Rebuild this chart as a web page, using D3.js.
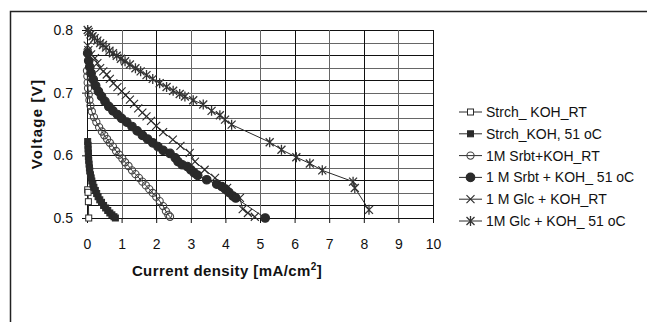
<!DOCTYPE html>
<html>
<head>
<meta charset="utf-8">
<script src="https://cdn.jsdelivr.net/npm/d3@7"></script>
<style>
  body { margin: 0; background: #fff; }
  svg { font-family: Arial, "Liberation Sans", sans-serif; }
</style>
</head>
<body>
<svg id="chart" width="647" height="322"></svg>
<script>
// values: [current density mA/cm2, voltage V]
const strchRT = [[0.02, 0.545], [0.03, 0.541], [0.04, 0.526], [0.05, 0.5]];
const strch51 = [[0.02, 0.622], [0.03, 0.616], [0.03, 0.61], [0.04, 0.604], [0.04, 0.598],
  [0.05, 0.592], [0.06, 0.586], [0.07, 0.58], [0.08, 0.575], [0.1, 0.569], [0.12, 0.564],
  [0.14, 0.559], [0.17, 0.554], [0.2, 0.549], [0.24, 0.544], [0.28, 0.539], [0.32, 0.534],
  [0.37, 0.529], [0.42, 0.525], [0.48, 0.52], [0.54, 0.516], [0.6, 0.512], [0.66, 0.508],
  [0.72, 0.505], [0.78, 0.502], [0.82, 0.5]];
const srbtRT = [[0.0, 0.735], [0.01, 0.726], [0.02, 0.716], [0.03, 0.707], [0.05, 0.697],
  [0.07, 0.688], [0.1, 0.679], [0.14, 0.67], [0.2, 0.661], [0.27, 0.653], [0.35, 0.645],
  [0.43, 0.638], [0.5, 0.632], [0.58, 0.626], [0.66, 0.62], [0.75, 0.614], [0.84, 0.607],
  [0.93, 0.601], [1.02, 0.595], [1.1, 0.589], [1.2, 0.583], [1.3, 0.576], [1.4, 0.57],
  [1.5, 0.564], [1.6, 0.558], [1.7, 0.552], [1.8, 0.546], [1.9, 0.54], [2.0, 0.534],
  [2.1, 0.527], [2.2, 0.519], [2.28, 0.511], [2.35, 0.505], [2.4, 0.502]];
const srbt51 = [[0.02, 0.763], [0.05, 0.751], [0.08, 0.741], [0.12, 0.731], [0.18, 0.721],
  [0.25, 0.711], [0.33, 0.702], [0.42, 0.694], [0.52, 0.686], [0.63, 0.678], [0.75, 0.671],
  [0.88, 0.665], [1.0, 0.659], [1.15, 0.653], [1.3, 0.646], [1.45, 0.639], [1.6, 0.632],
  [1.75, 0.626], [1.9, 0.62], [2.05, 0.614], [2.2, 0.608], [2.4, 0.603], [2.55, 0.596],
  [2.63, 0.59], [2.75, 0.585], [2.9, 0.582], [3.0, 0.577], [3.1, 0.572], [3.2, 0.568],
  [3.46, 0.561], [3.75, 0.554], [3.9, 0.55], [4.0, 0.546], [4.1, 0.541], [4.22, 0.535],
  [4.3, 0.532], [5.15, 0.5]];
const glcRT = [[0.02, 0.775], [0.04, 0.768], [0.12, 0.761], [0.23, 0.755], [0.3, 0.747],
  [0.38, 0.739], [0.47, 0.734], [0.57, 0.729], [0.66, 0.722], [0.76, 0.715], [0.88, 0.709],
  [1.0, 0.702], [1.12, 0.696], [1.24, 0.689], [1.36, 0.682], [1.48, 0.675], [1.6, 0.668],
  [1.72, 0.662], [1.85, 0.655], [2.0, 0.647], [2.2, 0.637], [2.48, 0.625], [2.7, 0.615],
  [2.97, 0.604], [3.12, 0.59], [3.4, 0.577], [3.7, 0.564], [4.05, 0.548], [4.42, 0.532],
  [4.5, 0.514], [4.65, 0.508], [4.85, 0.502]];
const glc51 = [[0.02, 0.8], [0.05, 0.797], [0.1, 0.793], [0.16, 0.79], [0.22, 0.787],
  [0.3, 0.783], [0.38, 0.779], [0.46, 0.776], [0.55, 0.772], [0.65, 0.767], [0.75, 0.763],
  [0.86, 0.759], [0.98, 0.754], [1.1, 0.75], [1.24, 0.745], [1.4, 0.739], [1.55, 0.734],
  [1.72, 0.728], [1.9, 0.722], [2.1, 0.715], [2.3, 0.709], [2.49, 0.703], [2.68, 0.698],
  [2.83, 0.694], [3.07, 0.688], [3.36, 0.681], [3.6, 0.671], [3.84, 0.664], [3.99, 0.657],
  [4.18, 0.649], [5.28, 0.621], [5.62, 0.609], [6.05, 0.597], [6.44, 0.587], [6.8, 0.576],
  [7.69, 0.558], [7.74, 0.548], [8.15, 0.513]];

const seriesNames = ['Strch_ KOH_RT', 'Strch_KOH, 51 oC', '1M Srbt+KOH_RT',
  '1 M Srbt + KOH_ 51 oC', '1 M Glc + KOH_RT', '1M Glc + KOH_ 51 oC'];
const seriesData = [strchRT, strch51, srbtRT, srbt51, glcRT, glc51];
const markerTypes = ['openSquare', 'square', 'openCircle', 'circle', 'cross', 'star'];

const xTicks = [0, 1, 2, 3, 4, 5, 6, 7, 8, 9, 10];
const yTicks = [0.5, 0.6, 0.7, 0.8];
const yGrid = d3.range(0.5, 0.8001, 0.02);

const svg = d3.select('#chart');
const marginLeft = 87, marginTop = 30, plotW = 346, plotH = 188;
const ink = '#2a2a2a';

// outer chart frame runs off the page on the right and bottom
svg.append('rect')
  .attr('x', 10.5).attr('y', 11.5).attr('width', 700).attr('height', 400)
  .attr('fill', 'none').attr('stroke', '#222').attr('stroke-width', 1.5);

const x = d3.scaleLinear().domain([0, 10]).range([0, plotW]);
const y = d3.scaleLinear().domain([0.5, 0.8]).range([plotH, 0]);

const g = svg.append('g').attr('transform', `translate(${marginLeft},${marginTop})`);

// grid
g.append('g').selectAll('line').data(yGrid).enter().append('line')
  .attr('x1', 0).attr('x2', plotW)
  .attr('y1', (d) => Math.round(y(d)) + 0.5).attr('y2', (d) => Math.round(y(d)) + 0.5)
  .attr('stroke', (d, i) => (i % 2 ? '#111' : '#666')).attr('stroke-width', 1);
g.append('g').selectAll('line').data(xTicks.slice(1)).enter().append('line')
  .attr('y1', 0).attr('y2', plotH)
  .attr('x1', (d) => Math.round(x(d)) + 0.5).attr('x2', (d) => Math.round(x(d)) + 0.5)
  .attr('stroke', (d, i) => (i % 2 ? '#111' : '#666')).attr('stroke-width', 1);

// axes
const xAxis = d3.axisBottom(x).tickValues(xTicks).tickSizeInner(5).tickSizeOuter(0).tickPadding(16);
const yAxis = d3.axisLeft(y).tickValues(yTicks).tickFormat(d3.format('.1f'))
  .tickSizeInner(5).tickSizeOuter(0).tickPadding(9);
const xg = g.append('g').attr('transform', `translate(0,${plotH})`).call(xAxis);
const yg = g.append('g').call(yAxis);
[xg, yg].forEach((a) => {
  a.selectAll('path, line').attr('stroke', '#111');
  a.selectAll('text').attr('font-size', 14).attr('fill', '#111')
    .attr('font-family', 'Arial, "Liberation Sans", sans-serif');
});

// markers
function drawMarker(sel, type) {
  if (type === 'openSquare' || type === 'square') {
    sel.append('rect').attr('x', -3).attr('y', -3).attr('width', 6).attr('height', 6)
      .attr('fill', type === 'square' ? ink : '#fff').attr('stroke', ink).attr('stroke-width', 1);
  } else if (type === 'openCircle' || type === 'circle') {
    const r = type === 'circle' ? 4.3 : 3.6;
    sel.append('circle').attr('r', r)
      .attr('fill', type === 'circle' ? ink : 'none').attr('stroke', type === 'circle' ? ink : '#444')
      .attr('stroke-width', 1.1);
  } else if (type === 'cross') {
    sel.append('path').attr('d', 'M-4,-4L4,4M-4,4L4,-4')
      .attr('stroke', ink).attr('stroke-width', 1.1).attr('fill', 'none');
  } else {
    sel.append('path').attr('d', 'M-4,-4L4,4M-4,4L4,-4M0,-5V5')
      .attr('stroke', '#333').attr('stroke-width', 1.3).attr('fill', 'none');
  }
}

const line = d3.line().x((d) => x(d[0])).y((d) => y(d[1]));
const dataContainer = g.append('g');
seriesData.forEach((data) => {
  dataContainer.append('path').attr('d', line(data))
    .attr('fill', 'none').attr('stroke', ink).attr('stroke-width', 1);
});
seriesData.forEach((data, i) => {
  dataContainer.append('g').selectAll('g').data(data).enter().append('g')
    .attr('transform', (d) => `translate(${x(d[0])},${y(d[1])})`)
    .each(function () { drawMarker(d3.select(this), markerTypes[i]); });
});

// axis titles
svg.append('text')
  .attr('transform', 'translate(42,124) rotate(-90)')
  .attr('text-anchor', 'middle').attr('font-size', 15).attr('font-weight', 'bold')
  .attr('letter-spacing', 1.2).attr('fill', '#111').text('Voltage [V]');
const xt = svg.append('text')
  .attr('x', 227).attr('y', 276).attr('text-anchor', 'middle')
  .attr('font-size', 15).attr('font-weight', 'bold').attr('letter-spacing', 0.4)
  .attr('fill', '#111');
xt.append('tspan').text('Current density [mA/cm');
xt.append('tspan').attr('font-size', 10).attr('dy', -6).text('2');
xt.append('tspan').attr('dy', 6).text(']');

// legend
const legend = svg.append('g').attr('transform', 'translate(459,112)');
const items = legend.selectAll('g').data(seriesNames).enter().append('g')
  .attr('transform', (d, i) => `translate(0,${i * 21.8})`);
items.append('line').attr('x1', 0).attr('x2', 23).attr('stroke', ink).attr('stroke-width', 1);
items.each(function (d, i) {
  const m = d3.select(this).append('g').attr('transform', 'translate(11.5,0)');
  drawMarker(m, markerTypes[i]);
});
items.append('text').attr('x', 27).attr('dy', '0.35em')
  .attr('font-size', 14).attr('fill', '#111').text((d) => d);
</script>
</body>
</html>
